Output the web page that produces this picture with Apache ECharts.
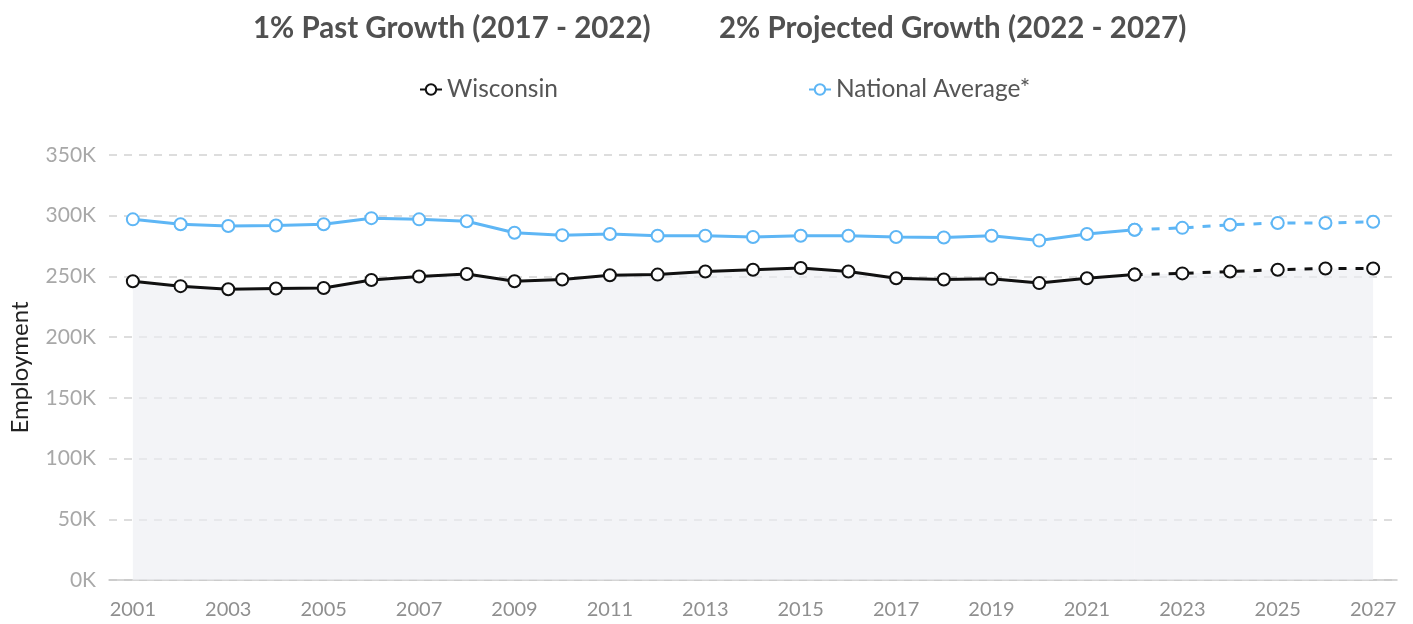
<!DOCTYPE html>
<html>
<head>
<meta charset="utf-8">
<script src="https://cdn.jsdelivr.net/npm/echarts@6/dist/echarts.min.js"></script>
<style>
  html, body { margin: 0; padding: 0; background: #fff; }
  #main { width: 1413px; height: 624px; }
</style>
</head>
<body>
<div id="main"></div>
<script>
var years = ['2001', '2002', '2003', '2004', '2005', '2006', '2007', '2008', '2009', '2010',
  '2011', '2012', '2013', '2014', '2015', '2016', '2017', '2018', '2019', '2020',
  '2021', '2022', '2023', '2024', '2025', '2026', '2027'];

// employment, thousands
var wisconsin = [246, 242, 239.5, 240, 240.5, 247, 250, 252, 246, 247.5,
  251, 251.5, 254, 255.5, 257, 254, 248.5, 247.5, 248, 244.5,
  248.5, 251.5, 252.5, 254, 255.5, 256.5, 256.5];
var national = [297, 293, 291.5, 292, 293, 298, 297, 295.5, 286, 284,
  285, 283.5, 283.5, 282.5, 283.5, 283.5, 282.5, 282, 283.5, 279.5,
  285, 288.5, 290, 292.5, 294, 294, 295];

var lastActual = years.indexOf('2022');

function actualPart(arr) {
  return arr.map(function (v, i) { return i <= lastActual ? v * 1000 : '-'; });
}
function projPart(arr) {
  return arr.map(function (v, i) { return i >= lastActual ? v * 1000 : '-'; });
}

var font = 'Lato';
var black = '#111111';
var blue = '#5eb6f5';

var chart = echarts.init(document.getElementById('main'));

function lineSeries(name, color, data, dashed, area) {
  var s = {
    name: name,
    type: 'line',
    data: data,
    symbol: 'emptyCircle',
    symbolSize: 12,
    showAllSymbol: true,
    lineStyle: { color: color, width: 3, type: dashed ? [8, 9] : 'solid' },
    itemStyle: { color: color, borderColor: color, borderWidth: 3 },
    emphasis: { disabled: true },
    z: 3
  };
  if (area) {
    s.areaStyle = { color: '#eceef2', opacity: 0.65 };
  }
  return s;
}

var option = {
  animation: false,
  textStyle: { fontFamily: font },
  title: [{
    text: '1% Past Growth (2017 - 2022)',
    left: 248,
    top: 8,
    textStyle: { fontFamily: font, fontSize: 29.5, fontWeight: 'bold', color: '#505050' }
  }, {
    text: '2% Projected Growth (2022 - 2027)',
    left: 714,
    top: 8,
    textStyle: { fontFamily: font, fontSize: 29.5, fontWeight: 'bold', color: '#505050' }
  }],
  legend: {
    left: 414,
    top: 72,
    itemWidth: 22,
    itemHeight: 13,
    itemGap: 250,
    data: ['Wisconsin', 'National Average*'],
    textStyle: { fontFamily: font, fontSize: 24.5, color: '#555555' }
  },
  grid: { left: 109, right: 16, top: 155, bottom: 44 },
  xAxis: {
    type: 'category',
    data: years,
    boundaryGap: true,
    axisLine: { lineStyle: { color: '#c8c8c8', width: 1.5 } },
    axisTick: { show: false },
    axisLabel: { interval: 1, color: '#8f8f8f', fontSize: 20, margin: 20, fontFamily: font }
  },
  yAxis: {
    type: 'value',
    min: 0,
    max: 350000,
    interval: 50000,
    name: 'Employment',
    nameLocation: 'middle',
    nameGap: 77,
    nameTextStyle: { color: '#222222', fontSize: 24, fontFamily: font },
    axisLine: { show: false },
    axisTick: { show: false },
    axisLabel: {
      color: '#a8a8a8',
      fontSize: 21,
      margin: 13,
      fontFamily: font,
      formatter: function (v) { return (v / 1000) + 'K'; }
    },
    splitLine: { lineStyle: { color: '#d2d2d2', type: [8, 7], width: 1.5 } }
  },
  series: [
    lineSeries('Wisconsin', black, actualPart(wisconsin), false, true),
    lineSeries('National Average*', blue, actualPart(national), false, false),
    lineSeries('Wisconsin', black, projPart(wisconsin), true, true),
    lineSeries('National Average*', blue, projPart(national), true, false)
  ]
};

chart.setOption(option);
</script>
</body>
</html>
